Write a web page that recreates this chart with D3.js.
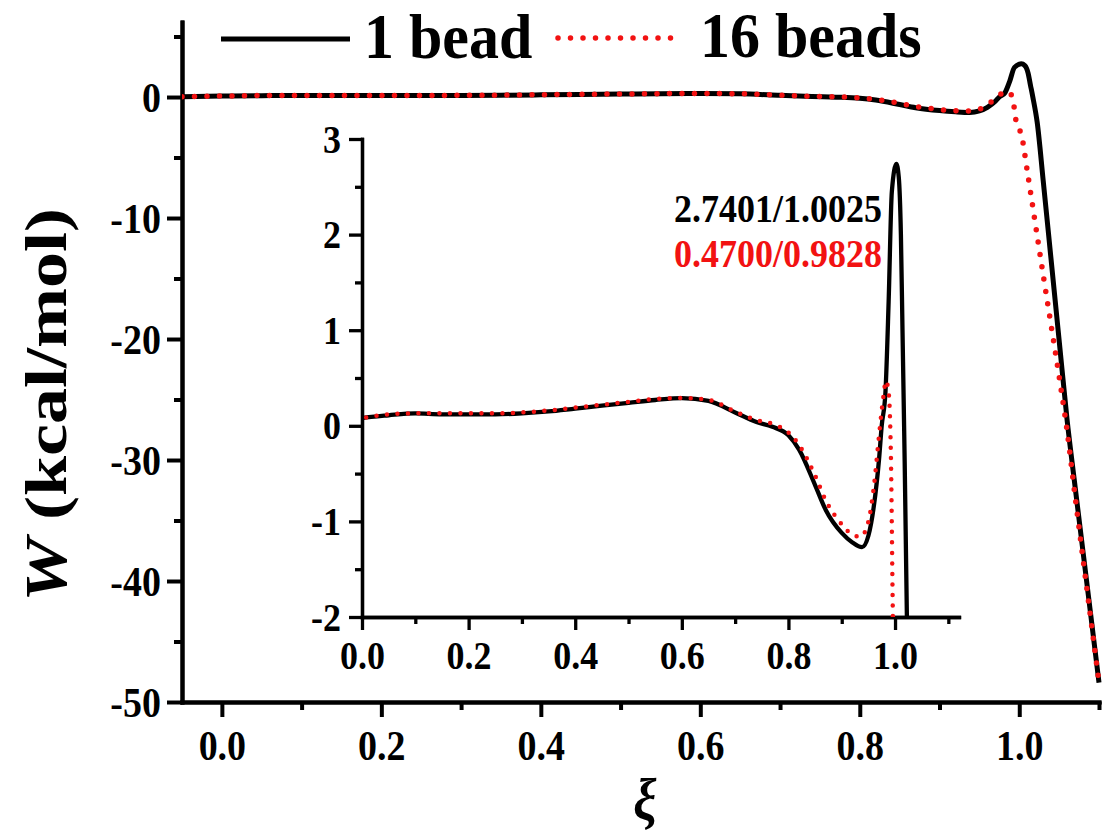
<!DOCTYPE html>
<html><head><meta charset="utf-8">
<script src="https://cdn.jsdelivr.net/npm/d3@7/dist/d3.min.js"></script>
<style>html,body{margin:0;padding:0;background:#fff;}svg{display:block;}</style>
</head><body>
<script>
// ---------- data ----------
const seriesNames = ["1 bead", "16 beads"];
const xi1 = [-0.05,0.0,0.05,0.1,0.15,0.2,0.25,0.3,0.35,0.4,0.45,0.5,0.55,0.6,0.65,0.7,0.74,0.77,0.8,0.82,0.85,0.87,0.9,0.92,0.938,0.95,0.96,0.97,0.975,0.982,0.988,0.994,1.0025,1.007,1.011,1.014,1.017,1.0225,1.03,1.04,1.05,1.06,1.07,1.08,1.09,1.1];
const w1  = [0.02,0.08,0.11,0.13,0.12,0.12,0.12,0.13,0.15,0.18,0.21,0.24,0.27,0.29,0.26,0.14,0.04,-0.01,-0.1,-0.25,-0.62,-0.88,-1.12,-1.22,-1.27,-1.15,-0.85,-0.35,0.0,0.35,1.3,2.45,2.74,2.6,2.0,1.0,0.0,-2.1,-6.9,-13.5,-20.1,-26.7,-32.2,-37.6,-43.0,-48.4];
const xi16 = [-0.05,0.0,0.05,0.1,0.15,0.2,0.25,0.3,0.35,0.4,0.45,0.5,0.55,0.6,0.65,0.7,0.74,0.77,0.8,0.82,0.85,0.87,0.9,0.92,0.935,0.95,0.96,0.97,0.978,0.9828,0.988,0.9925,0.996,1.003,1.01,1.02,1.03,1.04,1.05,1.06,1.07,1.08,1.09,1.1];
const w16  = [0.02,0.08,0.12,0.13,0.13,0.13,0.13,0.14,0.16,0.19,0.22,0.25,0.28,0.29,0.27,0.15,0.06,0.02,-0.07,-0.2,-0.52,-0.78,-1.03,-1.14,-1.16,-1.0,-0.65,-0.1,0.3,0.47,0.35,-0.4,-2.0,-3.2,-6.1,-10.4,-14.7,-18.9,-23.1,-27.6,-33.0,-38.2,-43.3,-48.4];
const mainXTicks = [0.0,0.2,0.4,0.6,0.8,1.0];
const mainXMinor = [0.1,0.3,0.5,0.7,0.9,1.1];
const mainYTicks = [-50,-40,-30,-20,-10,0];
const mainYMinor = [-45,-35,-25,-15,-5,5];
const insetXTicks = [0.0,0.2,0.4,0.6,0.8,1.0];
const insetXMinor = [0.1,0.3,0.5,0.7,0.9,1.1];
const insetYTicks = [-2,-1,0,1,2,3];
const insetYMinor = [-1.5,-0.5,0.5,1.5,2.5];
const annotations = ["2.7401/1.0025", "0.4700/0.9828"];

// ---------- setup ----------
const W = 1102, H = 834;
const FONT = "'Liberation Serif','Times New Roman',Times,serif";
const SY = 1.12;
const RED = "#f21212";
const svg = d3.select("body").append("svg").attr("width", W).attr("height", H);
svg.append("rect").attr("width", W).attr("height", H).attr("fill", "#fff");

const d1 = xi1.map((v,i)=>[v,w1[i]]);
const d16 = xi16.map((v,i)=>[v,w16[i]]);
const intFmt = d => String(d);  // plain hyphen minus like the original

function label(parent, x, y, str, size, opt={}) {
  const sy = opt.sy || SY;
  const g = parent.append("g").attr("transform", `translate(${x},${y}) scale(1,${sy})${opt.rot?` rotate(${opt.rot})`:""}`);
  const t = g.append("text").attr("x",0).attr("y",0)
    .attr("font-family", FONT).attr("font-size", size)
    .attr("font-weight", opt.weight || "bold")
    .attr("font-style", opt.style || "normal")
    .attr("text-anchor", opt.anchor || "start")
    .attr("fill", opt.fill || "#000");
  if (typeof str === "string") t.text(str);
  else str(t);
  return t;
}

function styleAxis(g, sw, fontSize, isY, labelOff) {
  g.select(".domain").attr("stroke","#000").attr("stroke-width", sw).attr("stroke-linecap","square");
  g.selectAll(".tick line").attr("stroke","#000").attr("stroke-width", sw);
  g.selectAll(".tick text")
    .attr("font-family", FONT).attr("font-size", fontSize).attr("font-weight","bold").attr("fill","#000")
    .attr("x", null).attr("y", null).attr("dy", null)
    .attr("text-anchor", isY ? "end" : "middle")
    .attr("transform", isY ? `translate(${labelOff[0]},${labelOff[1]}) scale(1,${SY})` : `translate(0,${labelOff}) scale(1,${SY})`);
}

// ---------- main chart ----------
const x = d3.scaleLinear().domain([-0.05,1.1]).range([182,1099]);
const y = d3.scaleLinear().domain([-50,6.2]).range([702,22]);

const gx = svg.append("g").attr("transform","translate(0,702)")
  .call(d3.axisBottom(x).tickValues(mainXTicks).tickSize(15).tickSizeOuter(0).tickFormat(d3.format(".1f")));
styleAxis(gx, 4, 38, false, 58);
const gxm = svg.append("g").attr("transform","translate(0,702)")
  .call(d3.axisBottom(x).tickValues(mainXMinor).tickSize(8).tickSizeOuter(0).tickFormat(""));
styleAxis(gxm, 4, 38, false, 0);

const gy = svg.append("g").attr("transform","translate(182,0)")
  .call(d3.axisLeft(y).tickValues(mainYTicks).tickSize(15).tickSizeOuter(0).tickFormat(intFmt));
styleAxis(gy, 4, 38, true, [-21, 14]);
const gym = svg.append("g").attr("transform","translate(182,0)")
  .call(d3.axisLeft(y).tickValues(mainYMinor).tickSize(8).tickSizeOuter(0).tickFormat(""));
styleAxis(gym, 4, 38, true, [0,0]);

svg.append("clipPath").attr("id","mainclip").append("rect")
  .attr("x",182).attr("y",0).attr("width",1099-182+4).attr("height",702);
const lineMain = d3.line().x(d=>x(d[0])).y(d=>y(d[1])).curve(d3.curveMonotoneX);
const gm = svg.append("g").attr("clip-path","url(#mainclip)");
gm.append("path").attr("d", lineMain(d1)).attr("fill","none").attr("stroke","#000").attr("stroke-width",5).attr("stroke-linejoin","round");
gm.append("path").attr("d", lineMain(d16)).attr("fill","none").attr("stroke",RED).attr("stroke-width",5.5)
  .attr("stroke-dasharray","0 12.5").attr("stroke-linecap","round");

// axis titles
label(svg, 66, 405, t => {
  t.append("tspan").attr("font-style","italic").text("W");
  t.append("tspan").text(" (kcal/mol)");
}, 60, {anchor:"middle", rot:-90, sy:1.2});
label(svg, 645, 820, "ξ", 52, {anchor:"middle", weight:"bold", style:"italic"});

// legend
svg.append("line").attr("x1",221).attr("x2",350).attr("y1",39).attr("y2",39)
  .attr("stroke","#000").attr("stroke-width",5);
label(svg, 364, 58, seriesNames[0], 60, {sy:1.06});
svg.append("line").attr("x1",558).attr("x2",678).attr("y1",38).attr("y2",38)
  .attr("stroke",RED).attr("stroke-width",5.5).attr("stroke-dasharray","0 12.5").attr("stroke-linecap","round");
label(svg, 700, 57, seriesNames[1], 60, {sy:1.06});

// ---------- inset ----------
const xI = d3.scaleLinear().domain([0,1.12]).range([362,959]);
const yI = d3.scaleLinear().domain([-2,3]).range([617,139]);

const gix = svg.append("g").attr("transform","translate(0,617)")
  .call(d3.axisBottom(xI).tickValues(insetXTicks).tickSize(13).tickSizeOuter(0).tickFormat(d3.format(".1f")));
styleAxis(gix, 3.3, 36, false, 52);
const gixm = svg.append("g").attr("transform","translate(0,617)")
  .call(d3.axisBottom(xI).tickValues(insetXMinor).tickSize(7).tickSizeOuter(0).tickFormat(""));
styleAxis(gixm, 3.3, 36, false, 0);
const giy = svg.append("g").attr("transform","translate(362,0)")
  .call(d3.axisLeft(yI).tickValues(insetYTicks).tickSize(13).tickSizeOuter(0).tickFormat(intFmt));
styleAxis(giy, 3.3, 36, true, [-21, 13]);
const giym = svg.append("g").attr("transform","translate(362,0)")
  .call(d3.axisLeft(yI).tickValues(insetYMinor).tickSize(7).tickSizeOuter(0).tickFormat(""));
styleAxis(giym, 3.3, 36, true, [0,0]);

svg.append("clipPath").attr("id","insetclip").append("rect")
  .attr("x",362).attr("y",120).attr("width",959-362).attr("height",617-120);
const lineInset = d3.line().x(d=>xI(d[0])).y(d=>yI(d[1])).curve(d3.curveMonotoneX);
const gi = svg.append("g").attr("clip-path","url(#insetclip)");
gi.append("path").attr("d", lineInset(d1)).attr("fill","none").attr("stroke","#000").attr("stroke-width",4.3).attr("stroke-linejoin","round");
gi.append("path").attr("d", lineInset(d16)).attr("fill","none").attr("stroke",RED).attr("stroke-width",4.5)
  .attr("stroke-dasharray","0 10.5").attr("stroke-linecap","round");

label(svg, 882, 222, annotations[0], 36, {anchor:"end"});
label(svg, 882, 267, annotations[1], 36, {anchor:"end", fill:RED});
</script>
</body></html>
